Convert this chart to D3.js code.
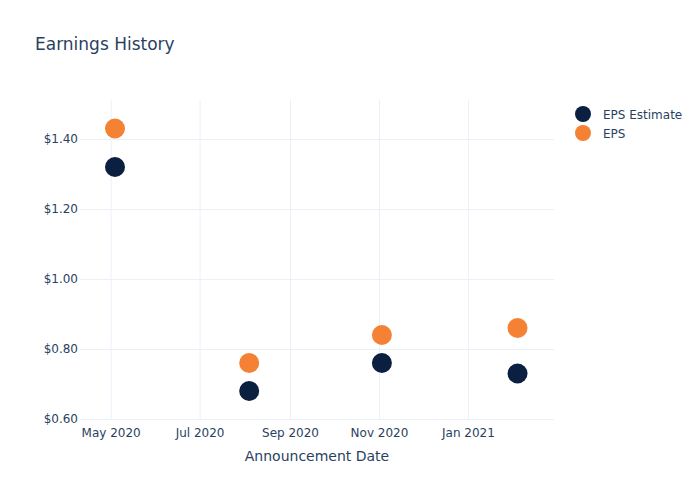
<!DOCTYPE html>
<html><head><meta charset="utf-8">
<script src="https://cdn.jsdelivr.net/npm/d3@7"></script>
<style>body{margin:0;background:#fff}text{font-family:"DejaVu Sans",sans-serif}</style>
</head><body><svg id="c" width="700" height="500"></svg>
<script>
const dates = ["2020-05-04","2020-08-04","2020-11-03","2021-02-04"];
const epsEstimate = [1.32, 0.68, 0.76, 0.73];
const eps = [1.43, 0.76, 0.84, 0.86];
const yTicks = [0.6, 0.8, 1.0, 1.2, 1.4];
const xTicks = ["2020-05-01","2020-07-01","2020-09-01","2020-11-01","2021-01-01"];
const seriesNames = ["EPS Estimate","EPS"];
const colors = ["#0b1f41","#f58134"];

const parse = d3.utcParse("%Y-%m-%d");
const svg = d3.select("#c");
const L=80,R=554,T=100,B=420;
const x = d3.scaleUtc().domain([parse("2020-04-10"), parse("2021-03-01")]).range([L,R]);
const y = d3.scaleLinear().domain([0.6, 1.5114]).range([419,T]);
const txt="#2a3f5f", grid="#ebf0f8";
const ff="'DejaVu Sans',sans-serif";

svg.append("text").attr("x",35).attr("y",50).attr("font-size",17).attr("fill",txt).text("Earnings History");

const gx = svg.append("g").attr("transform",`translate(0,${B})`)
  .call(d3.axisBottom(x).tickValues(xTicks.map(parse)).tickFormat(d3.utcFormat("%b %Y")).tickSize(-(B-T)).tickPadding(8));
gx.select(".domain").remove();
gx.selectAll("line").attr("stroke",grid);
gx.selectAll("text").attr("font-size",12).attr("fill",txt).attr("font-family",ff);

const gy = svg.append("g").attr("transform",`translate(${L},0)`)
  .call(d3.axisLeft(y).tickValues(yTicks).tickFormat(d=>"$"+d.toFixed(2)).tickSize(-(R-L)).tickPadding(2));
gy.select(".domain").remove();
gy.selectAll("line").attr("stroke",grid);
gy.selectAll("text").attr("font-size",12).attr("fill",txt).attr("font-family",ff);

svg.append("text").attr("x",(L+R)/2).attr("y",461).attr("text-anchor","middle").attr("font-size",14).attr("fill",txt).text("Announcement Date");

[epsEstimate, eps].forEach((vals,i)=>{
  svg.append("g").selectAll("circle").data(vals).join("circle")
    .attr("cx",(d,j)=>x(parse(dates[j]))).attr("cy",d=>y(d)).attr("r",10).attr("fill",colors[i]);
});

const lg = svg.append("g");
seriesNames.forEach((n,i)=>{
  lg.append("circle").attr("cx",583).attr("cy",114+i*19).attr("r",8).attr("fill",colors[i]);
  lg.append("text").attr("x",603).attr("y",118.5+i*19).attr("font-size",12).attr("fill",txt).text(n);
});
</script></body></html>
